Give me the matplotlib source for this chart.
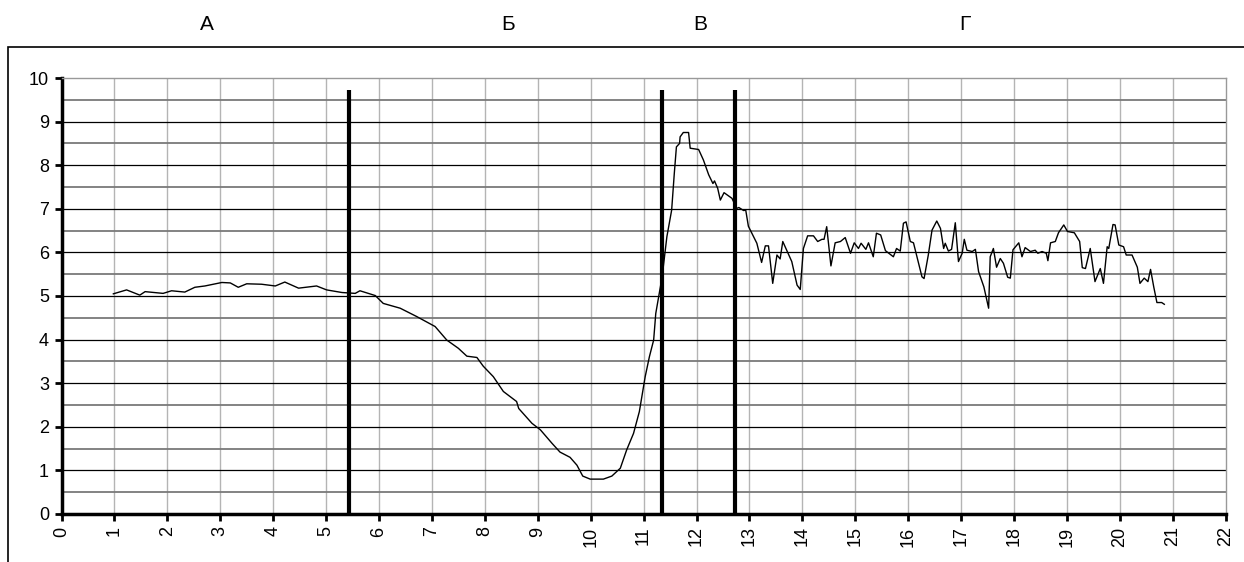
import matplotlib
matplotlib.use('Agg')
from matplotlib import pyplot as plt
from matplotlib.patches import Rectangle
from matplotlib import transforms

plt.rcParams['font.family'] = ['Liberation Sans', 'DejaVu Sans']

# curve (x, y)
xs = [0.98, 1.23, 1.48, 1.58, 1.92, 2.08, 2.33, 2.52, 2.71, 3.03, 3.19, 3.34, 3.50, 3.78,
      4.04, 4.22, 4.48, 4.82, 5.01, 5.30, 5.55, 5.64, 5.93, 6.08, 6.40, 6.71, 7.06, 7.28,
      7.50, 7.66, 7.85, 7.97, 8.16, 8.35, 8.60, 8.64, 8.89, 9.05, 9.27, 9.42, 9.61, 9.74,
      9.85, 9.99, 10.24, 10.40, 10.56, 10.68, 10.81, 10.92, 11.03, 11.11, 11.19, 11.23,
      11.35, 11.44, 11.53, 11.58, 11.62, 11.68, 11.69, 11.75, 11.85, 11.88, 12.04, 12.13,
      12.23, 12.31, 12.34, 12.40, 12.45, 12.52, 12.67, 12.76, 12.80, 12.89, 12.93, 12.98,
      13.14, 13.23, 13.30, 13.36, 13.44, 13.52, 13.58, 13.63, 13.80, 13.90, 13.96, 14.02,
      14.10, 14.21, 14.29, 14.37, 14.41, 14.46, 14.54, 14.62, 14.72, 14.81, 14.91, 14.98,
      15.06, 15.11, 15.20, 15.25, 15.34, 15.40, 15.48, 15.57, 15.72, 15.78, 15.85, 15.91,
      15.96, 16.04, 16.10, 16.26, 16.30, 16.38, 16.45, 16.54, 16.61, 16.67, 16.70, 16.76,
      16.82, 16.89, 16.95, 17.02, 17.06, 17.11, 17.21, 17.27, 17.33, 17.43, 17.52, 17.55,
      17.61, 17.67, 17.74, 17.80, 17.88, 17.93, 17.98, 18.09, 18.15, 18.21, 18.31, 18.40,
      18.45, 18.53, 18.61, 18.64, 18.69, 18.78, 18.84, 18.94, 19.01, 19.14, 19.24, 19.29,
      19.35, 19.44, 19.53, 19.63, 19.69, 19.76, 19.79, 19.87, 19.91, 19.98, 20.07, 20.12,
      20.23, 20.33, 20.38, 20.46, 20.53, 20.58, 20.64, 20.70, 20.79, 20.84]
ys = [5.05, 5.14, 5.02, 5.10, 5.06, 5.12, 5.09, 5.20, 5.23, 5.31, 5.30, 5.20, 5.28, 5.27,
      5.23, 5.32, 5.18, 5.23, 5.14, 5.08, 5.06, 5.12, 5.01, 4.83, 4.72, 4.53, 4.30, 3.99,
      3.80, 3.62, 3.59, 3.39, 3.15, 2.81, 2.58, 2.42, 2.08, 1.93, 1.62, 1.42, 1.30, 1.12,
      0.87, 0.80, 0.80, 0.87, 1.05, 1.47, 1.85, 2.35, 3.15, 3.61, 3.99, 4.60,
      5.44, 6.36, 6.97, 7.81, 8.42, 8.50, 8.65, 8.75, 8.75, 8.39, 8.36, 8.12,
      7.78, 7.58, 7.64, 7.47, 7.20, 7.37, 7.24, 7.01, 7.03, 6.96, 6.97, 6.60,
      6.21, 5.77, 6.15, 6.15, 5.29, 5.94, 5.85, 6.25, 5.79, 5.25, 5.15, 6.09,
      6.38, 6.38, 6.25, 6.30, 6.30, 6.59, 5.69, 6.22, 6.25, 6.34, 5.98, 6.22,
      6.09, 6.21, 6.07, 6.22, 5.90, 6.44, 6.40, 6.04, 5.90, 6.09, 6.03, 6.67,
      6.70, 6.25, 6.22, 5.44, 5.40, 5.94, 6.51, 6.72, 6.55, 6.09, 6.21, 6.03,
      6.07, 6.68, 5.79, 5.98, 6.30, 6.05, 6.02, 6.07, 5.56, 5.21, 4.72, 5.90,
      6.09, 5.66, 5.86, 5.75, 5.43, 5.41, 6.06, 6.22, 5.90, 6.11, 6.02, 6.05,
      5.98, 6.02, 5.98, 5.81, 6.22, 6.25, 6.45, 6.63, 6.48, 6.45, 6.25, 5.65,
      5.63, 6.09, 5.33, 5.63, 5.29, 6.13, 6.09, 6.64, 6.63, 6.17, 6.13, 5.94,
      5.94, 5.66, 5.29, 5.41, 5.33, 5.61, 5.21, 4.85, 4.85, 4.81]

bounds = [5.44, 11.35, 12.72]
bound_top = 9.72
zone_names = ['А', 'Б', 'В', 'Г']
zone_x = [2.75, 8.44, 12.07, 17.08]

fig = plt.figure(figsize=(12.44, 5.62), dpi=100)
# outer frame
fig.patches.append(Rectangle((8 / 1244, -0.05), 1.2, (562 - 47) / 562 + 0.05,
                             transform=fig.transFigure, fill=False, ec='black', lw=1.2))

ax = fig.add_axes([61.5 / 1244, 48 / 562, (1225.7 - 61.5) / 1244, (514 - 78) / 562])
ax.set_xlim(0, 22)
ax.set_ylim(0, 10)

for v in range(1, 22):
    ax.axvline(v, color='#b4b4b4', lw=1.0, zorder=1)
for h in [i + 0.5 for i in range(10)]:
    ax.axhline(h, color='#7a7a7a', lw=1.3, zorder=1)
for h in range(1, 10):
    ax.axhline(h, color='black', lw=0.9, zorder=1)

ax.plot(xs, ys, color='black', lw=1.0, zorder=3)

for b in bounds:
    ax.plot([b, b], [0, bound_top], color='black', lw=3.0, zorder=4, solid_capstyle='butt')

# zone letters above the frame
trans = transforms.blended_transform_factory(ax.transData, fig.transFigure)
for name, zx in zip(zone_names, zone_x):
    ax.text(zx, (562 - 25) / 562, name, transform=trans, ha='center', va='center',
            fontsize=15, clip_on=False)

ax.set_xticks(range(0, 23))
ax.set_yticks(range(0, 11))
ax.tick_params(axis='x', labelrotation=90, direction='out', length=5, width=2, labelsize=13, pad=4)
ax.tick_params(axis='y', direction='out', length=5, width=2, labelsize=13, pad=4)

ax.spines['left'].set_linewidth(2.5)
ax.spines['bottom'].set_linewidth(2.5)
ax.spines['top'].set_color('#999999')
ax.spines['top'].set_linewidth(1.0)
ax.spines['right'].set_color('#999999')
ax.spines['right'].set_linewidth(1.0)

fig.savefig('out.png', dpi=100)
